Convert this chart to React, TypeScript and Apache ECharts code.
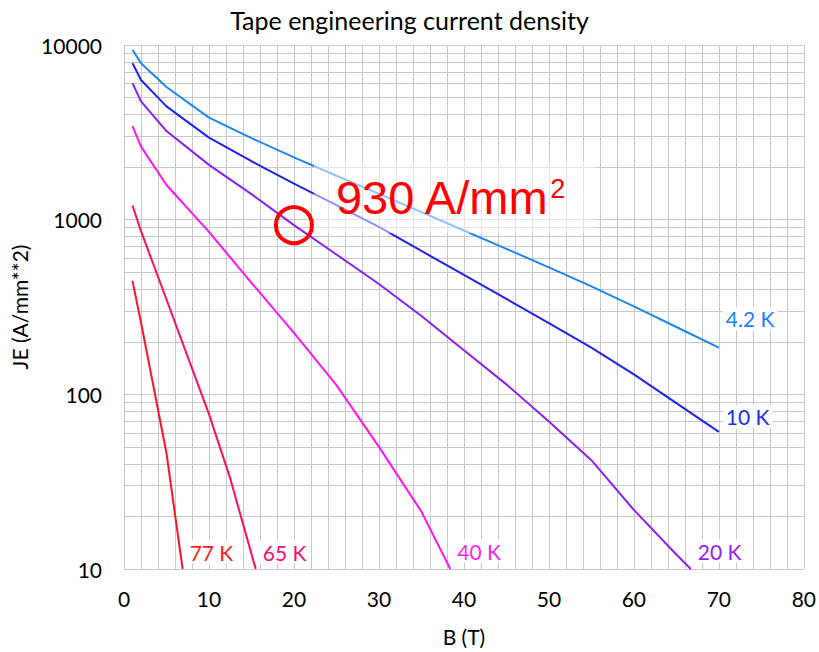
import React, { useEffect, useRef } from 'react';
import * as echarts from 'echarts';

// ---- data ----
const seriesNames = ['4.2 K', '10 K', '20 K', '40 K', '65 K', '77 K'];

const b42 = [1, 2, 5, 10, 15, 20, 25, 30, 35, 40, 45, 50, 55, 60, 65, 70];
const je42 = [9400, 7870, 5750, 3840, 2930, 2275, 1785, 1405, 1105, 867, 681, 533, 415, 319, 243, 185];

const b10 = [1, 2, 5, 10, 15, 20, 25, 30, 35, 40, 45, 50, 55, 60, 65, 70];
const je10 = [7870, 6300, 4450, 2950, 2160, 1610, 1210, 910, 662, 483, 352, 256, 185, 130, 89, 61];

const b20 = [1, 2, 5, 10, 15, 20, 25, 30, 35, 40, 45, 50, 55, 60, 65, 66.7];
const je20 = [6050, 4760, 3215, 2060, 1400, 930, 632, 428, 281, 179, 114, 70, 42, 21.8, 12.1, 10];

const b40 = [1, 2, 5, 10, 15, 20, 25, 30, 35, 38.4];
const je40 = [3435, 2620, 1580, 851, 435, 225, 113, 50, 21.3, 10];

const b65 = [1, 2, 5, 10, 12.5, 15.5];
const je65 = [1205, 860, 349, 77, 33, 10];

const b77 = [1, 2, 5, 6.9];
const je77 = [446, 258, 46, 10];

const seriesB = [b42, b10, b20, b40, b65, b77];
const seriesJE = [je42, je10, je20, je40, je65, je77];

const yDecades = [10, 100, 1000];
const yMinorMultipliers = [2, 3, 4, 5, 6, 7, 8, 9];

const annotationB = [20];
const annotationJE = [930];
const annotationValue = '930 A/mm';
const annotationSup = '2';

// ---- styles ----
const lineColors = ['#1d86f0', '#1f22e8', '#8c1eee', '#ff14f0', '#ff0a66', '#ff1228'];
const labelColors = ['#1a80ff', '#1a30f0', '#9a1af0', '#ff1ef0', '#ff0a6a', '#ff1a1a'];
const labelOffsets = [[0, -29], [0, -15], [0, -18], [0, -18], [0, -17], [0, -17]];

const FONT = 'Lato, "Open Sans", sans-serif';
const GRID_COLOR = '#c8c8c8';

export default function App() {
  const ref = useRef<HTMLDivElement>(null);

  useEffect(() => {
    if (!ref.current) return;
    const chart = echarts.init(ref.current, undefined, { renderer: 'svg' });

    const minorValues: number[] = [];
    yDecades.forEach((d) => yMinorMultipliers.forEach((m) => minorValues.push(d * m)));

    const curveSeries = seriesNames.map((name, i) => ({
      name,
      type: 'line',
      data: seriesB[i].map((b, k) => [b, seriesJE[i][k]]),
      showSymbol: false,
      symbol: 'none',
      clip: true,
      z: 3,
      lineStyle: { color: lineColors[i], width: 2 },
      itemStyle: { color: lineColors[i] },
      endLabel: {
        show: true,
        formatter: name,
        color: labelColors[i],
        fontFamily: FONT,
        fontSize: 21,
        distance: 4,
        offset: labelOffsets[i],
        backgroundColor: '#ffffff',
        padding: [1, 3],
      },
    }));

    const option = {
      animation: false,
      backgroundColor: '#ffffff',
      title: {
        text: 'Tape engineering current density',
        left: 'center',
        top: 2,
        textStyle: { fontFamily: FONT, fontSize: 25, fontWeight: 'normal', color: '#000' },
      },
      grid: { left: 124, right: 12, top: 45, bottom: 79, containLabel: false },
      xAxis: {
        type: 'value',
        min: 0,
        max: 80,
        interval: 10,
        name: 'B (T)',
        nameLocation: 'middle',
        nameGap: 57,
        nameTextStyle: { fontFamily: FONT, fontSize: 21, color: '#000' },
        axisLine: { show: false },
        axisTick: { show: false },
        axisLabel: { fontFamily: FONT, fontSize: 21, color: '#000', margin: 19 },
        splitLine: { show: true, lineStyle: { color: GRID_COLOR, width: 1 } },
        minorTick: { show: false, splitNumber: 5 },
        minorSplitLine: { show: true, lineStyle: { color: GRID_COLOR, width: 1 } },
      },
      yAxis: {
        type: 'log',
        logBase: 10,
        min: 10,
        max: 10000,
        name: 'JE (A/mm**2)',
        nameLocation: 'middle',
        nameRotate: 90,
        nameGap: 90,
        nameTextStyle: { fontFamily: FONT, fontSize: 21, color: '#000' },
        axisLine: { show: false },
        axisTick: { show: false },
        axisLabel: {
          fontFamily: FONT,
          fontSize: 21,
          color: '#000',
          margin: 22,
          formatter: (v: number) => String(Math.round(v)),
        },
        splitLine: { show: true, lineStyle: { color: GRID_COLOR, width: 1 } },
      },
      series: [
        {
          name: 'minor-grid',
          type: 'line',
          data: [],
          z: 1,
          silent: true,
          markLine: {
            silent: true,
            z: 1,
            symbol: ['none', 'none'],
            label: { show: false },
            lineStyle: { color: GRID_COLOR, width: 1, type: 'solid' },
            data: minorValues.map((v) => ({ yAxis: v })),
          },
        },
        ...curveSeries,
        {
          name: 'annotation',
          type: 'scatter',
          z: 10,
          data: annotationB.map((b, k) => [b, annotationJE[k]]),
          symbol: 'circle',
          symbolSize: 36,
          itemStyle: { color: 'rgba(255,255,255,0)', borderColor: '#ff0000', borderWidth: 4, opacity: 1 },
          label: {
            show: true,
            position: 'right',
            distance: 0,
            offset: [0, -28],
            formatter: `{a|${annotationValue}}{b|${annotationSup}}`,
            backgroundColor: 'rgba(255,255,255,0.5)',
            padding: [10, 30, 10, 22],
            opacity: 1,
            rich: {
              a: {
                fontFamily: '"Liberation Sans", Arial, sans-serif',
                fontSize: 47,
                lineHeight: 52,
                color: '#ff0000',
              },
              b: {
                fontFamily: '"Liberation Sans", Arial, sans-serif',
                fontSize: 27,
                lineHeight: 30,
                color: '#ff0000',
                verticalAlign: 'top',
                padding: [4, 0, 0, 0],
              },
            },
          },
        },
      ],
    };

    chart.setOption(option as any);
    return () => chart.dispose();
  }, []);

  return <div ref={ref} style={{ width: 819, height: 652, position: 'absolute', left: 0, top: 0 }} />;
}
